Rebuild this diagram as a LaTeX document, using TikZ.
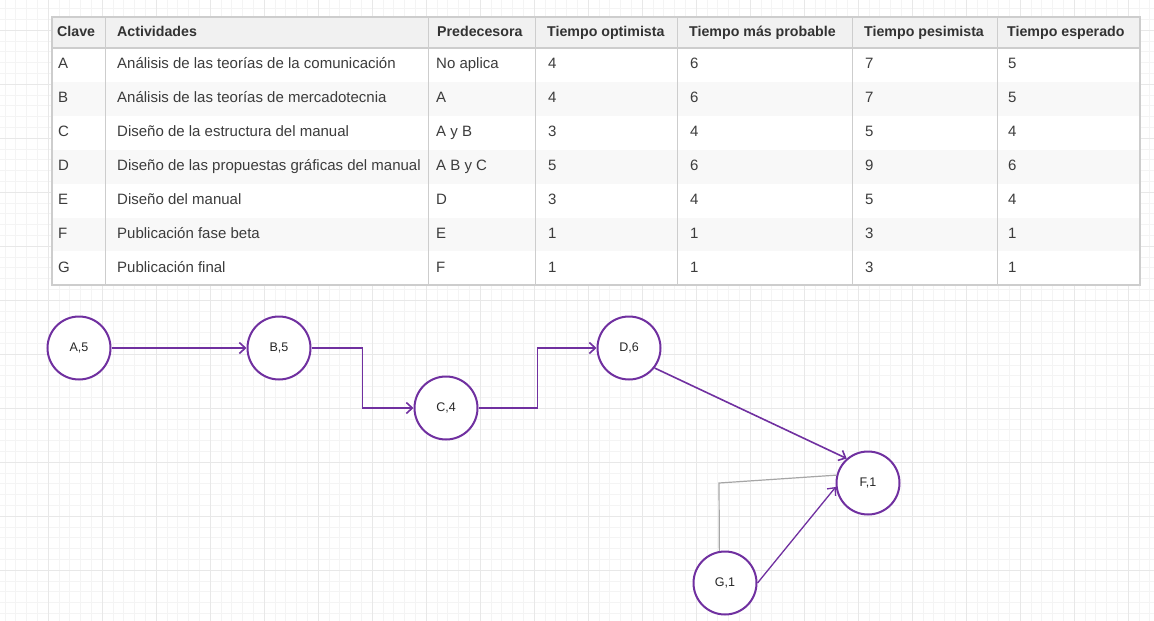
\documentclass[tikz,border=0pt]{standalone}
\usepackage{fontspec}
\setmainfont{Liberation Sans}
\usetikzlibrary{arrows.meta, calc, positioning}
\definecolor{morado}{RGB}{112,48,160}
\definecolor{borde}{RGB}{205,205,205}
\definecolor{cabecera}{RGB}{241,241,241}
\definecolor{franja}{RGB}{248,248,248}
\definecolor{rejilla}{RGB}{244,244,244}
\definecolor{rejillaB}{RGB}{232,232,232}
\definecolor{texto}{RGB}{60,60,60}

\tikzset{
  evento/.style={circle, draw=morado, line width=2pt, fill=white, minimum size=63pt,
    inner sep=0pt, text=black!85, font=\fontsize{12.5}{14}\selectfont},
  flecha/.style={draw=morado, line width=1.6pt, -{Straight Barb[length=6pt,width=11pt]}},
  celda/.style={anchor=base west, inner sep=0pt, text=texto, font=\fontsize{15}{17}\selectfont},
  titulo/.style={celda, text=black!80, font=\fontsize{14.2}{16}\selectfont\bfseries}
}

\begin{document}
\begin{tikzpicture}[x=1pt, y=-1pt]
  \useasboundingbox (0,0) rectangle (1154,621);
  \fill[white] (0,0) rectangle (1154,621);

  % Grid background
  \foreach \i in {0,...,106}
    \draw[rejilla, line width=0.6pt] (4.8+10.8*\i,0) -- ++(0,621);
  \foreach \i in {0,...,57}
    \draw[rejilla, line width=0.6pt] (0,8.4+10.8*\i) -- ++(1154,0);
  \foreach \i in {0,...,21}
    \draw[rejillaB, line width=0.8pt] (48+54*\i,0) -- ++(0,621);
  \foreach \i in {0,...,11}
    \draw[rejillaB, line width=0.8pt] (0,30+54*\i) -- ++(1154,0);

  % Table
  \fill[white] (52,17) rectangle (1140,285);
  \fill[cabecera] (52,17) rectangle (1140,48);
  \foreach \r in {2,4,6}
    \fill[franja] (52,{48+33.9*(\r-1)}) rectangle (1140,{48+33.9*\r});
  \foreach \x in {105,428,535,677,852,997}
    \draw[borde] (\x,17) -- (\x,285);
  \draw[borde, line width=1.5pt] (52,48) -- (1140,48);
  \draw[borde, line width=1.2pt] (52,17) rectangle (1140,285);

  % Header
  \foreach \x/\nombre/\texto in {57/clave/Clave, 117/act/Actividades, 437/pred/Predecesora,
      547/opt/Tiempo optimista, 689/prob/Tiempo más probable,
      864/pes/Tiempo pesimista, 1007/esp/Tiempo esperado}
    \node[titulo] (h-\nombre) at (\x,36) {\texto};

  % Rows
  \foreach \r/\c/\act/\pred/\o/\m/\p/\e in {
      1/A/Análisis de las teorías de la comunicación/No aplica/4/6/7/5,
      2/B/Análisis de las teorías de mercadotecnia/A/4/6/7/5,
      3/C/Diseño de la estructura del manual/A y B/3/4/5/4,
      4/D/Diseño de las propuestas gráficas del manual/A B y C/5/6/9/6,
      5/E/Diseño del manual/D/3/4/5/4,
      6/F/Publicación fase beta/E/1/1/3/1,
      7/G/Publicación final/F/1/1/3/1} {
    \pgfmathsetmacro\y{48+33.9*(\r-0.5)+4}
    \node[celda] (fila\c-clave) at (58,\y) {\c};
    \node[celda] (fila\c-act) at (117,\y) {\act};
    \node[celda] (fila\c-pred) at (436,\y) {\pred};
    \node[celda] (fila\c-opt) at (548,\y) {\o};
    \node[celda] (fila\c-prob) at (690,\y) {\m};
    \node[celda] (fila\c-pes) at (865,\y) {\p};
    \node[celda] (fila\c-esp) at (1008,\y) {\e};
  }

  % Network
  \node[evento] (A) at (79,348) {A,5};
  \node[evento] (B) at (279,348) {B,5};
  \node[evento] (C) at (446,408) {C,4};
  \node[evento] (D) at (629,348) {D,6};
  \node[evento] (F) at (868,483) {F,1};
  \node[evento] (G) at (725,583) {G,1};

  \draw[flecha] (A) -- (B);
  \draw[flecha] (B.east) -| ($(B.east)!0.5!(C.west)$) |- (C.west);
  \draw[flecha] (C.east) -| ($(C.east)!0.5!(D.west)$) |- (D.west);
  \draw[flecha] (D.-38) -- (F.131);
  \draw[flecha, line width=1.3pt] (G.east) -- (F.187);

  % Grey link G to F
  \coordinate (codo) at (719,483);
  \draw[gray!70, line width=1.2pt] (G.100) -- (codo) -- (F.166);
\end{tikzpicture}
\end{document}
